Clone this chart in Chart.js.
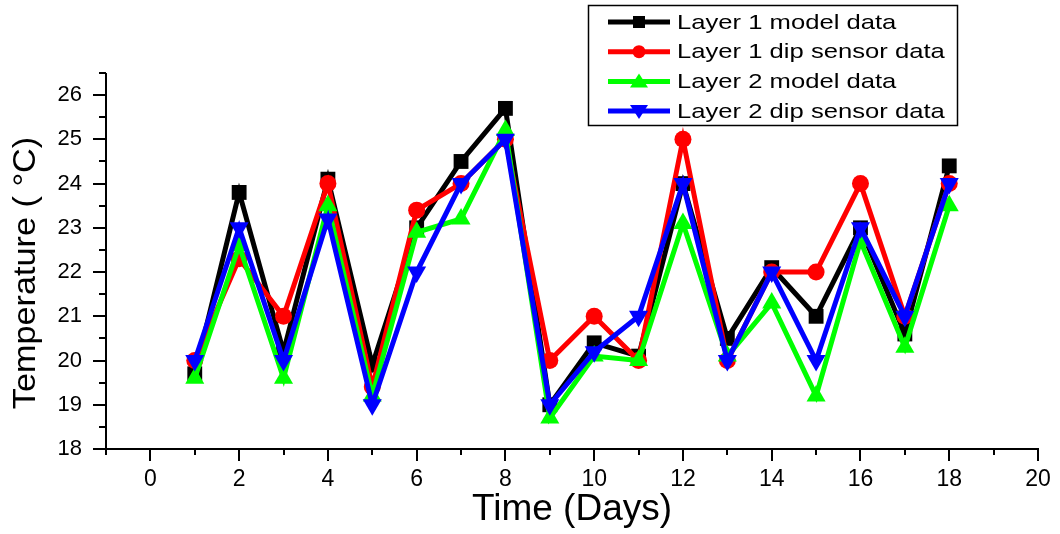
<!DOCTYPE html>
<html><head><meta charset="utf-8">
<script src="https://cdn.jsdelivr.net/npm/chart.js@4.4.0/dist/chart.umd.min.js"></script>
<style>html,body{margin:0;padding:0;background:#fff;overflow:hidden}#wrap{width:1060px;height:534px;position:relative}</style>
</head><body><div id="wrap"><canvas id="c" width="1060" height="534"></canvas></div>
<script>
const days = [1,2,3,4,5,6,7,8,9,10,11,12,13,14,15,16,17,18];
const layer1Model = [19.7,23.8,20.2,24.1,19.9,23.0,24.5,25.7,19.0,20.4,20.1,24.0,20.5,22.1,21.0,23.0,20.6,24.4];
const layer1Dip   = [20.0,22.3,21.0,24.0,19.4,23.4,24.0,25.0,20.0,21.0,20.0,25.0,20.0,22.0,22.0,24.0,21.0,24.0];
const layer2Model = [19.6,22.6,19.6,23.5,19.2,22.9,23.2,25.2,18.7,20.1,20.0,23.1,20.1,21.3,19.2,22.7,20.3,23.5];
const layer2Dip   = [20.0,23.0,20.0,23.2,19.0,22.0,24.0,25.0,19.0,20.2,21.0,24.0,20.0,22.0,20.0,23.0,21.0,24.0];
const seriesLabels = ['Layer 1 model data','Layer 1 dip sensor data','Layer 2 model data','Layer 2 dip sensor data'];
const xTickLabels = ['0','2','4','6','8','10','12','14','16','18','20'];
const yTickLabels = ['18','19','20','21','22','23','24','25','26'];
const xTitle = 'Time (Days)';
const yTitle = 'Temperature ( \u00B0C)';

const FONT = '"Liberation Sans", Arial, sans-serif';
const toPts = arr => days.map((d,i)=>({x:d,y:arr[i]}));

const styles = [
  {color:'#000000', pointStyle:'rect', radius:10.5, rotation:0, order:3},
  {color:'#ff0000', pointStyle:'circle', radius:8.5, rotation:0, order:2},
  {color:'#00ff00', pointStyle:'triangle', radius:11, rotation:0, order:1},
  {color:'#0000ff', pointStyle:'triangle', radius:11, rotation:180, order:0}
];
const values = [layer1Model, layer1Dip, layer2Model, layer2Dip];

const datasets = values.map((v,i)=>({
  label: seriesLabels[i],
  data: toPts(v),
  borderColor: styles[i].color,
  backgroundColor: styles[i].color,
  pointBackgroundColor: styles[i].color,
  pointBorderColor: styles[i].color,
  pointBorderWidth: 0,
  pointStyle: styles[i].pointStyle,
  pointRadius: styles[i].radius,
  pointHoverRadius: styles[i].radius,
  pointRotation: styles[i].rotation,
  borderWidth: 5,
  tension: 0,
  fill: false,
  order: styles[i].order
}));

const axesPlugin = {
  id: 'axesPlugin',
  afterDraw(chart){
    const ctx = chart.ctx, xs = chart.scales.x, ys = chart.scales.y, ca = chart.chartArea;
    ctx.save();
    ctx.strokeStyle = '#000'; ctx.lineWidth = 2; ctx.lineCap = 'butt';
    const x0 = Math.round(ca.left), yb = Math.round(ca.bottom);
    ctx.beginPath();
    ctx.moveTo(x0, Math.round(ca.top)); ctx.lineTo(x0, yb);
    ctx.moveTo(x0 - 1, yb); ctx.lineTo(Math.round(ca.right)+1, yb);
    for (let v = ys.min; v <= ys.max + 1e-9; v += 0.5) {
      const y = Math.round(ys.getPixelForValue(v));
      const major = yTickLabels.includes(String(v));
      ctx.moveTo(x0, y); ctx.lineTo(x0 - (major ? 13 : 7), y);
    }
    for (let v = xs.min; v <= xs.max + 1e-9; v += 1) {
      const x = Math.round(xs.getPixelForValue(v));
      const major = xTickLabels.includes(String(v));
      ctx.moveTo(x, yb); ctx.lineTo(x, yb + (major ? 12 : 6));
    }
    ctx.stroke();

    // y-axis title
    ctx.save();
    ctx.fillStyle = '#000';
    ctx.font = '32px ' + FONT;
    ctx.textAlign = 'center'; ctx.textBaseline = 'alphabetic';
    ctx.translate(35, 273);
    ctx.rotate(-Math.PI / 2);
    ctx.scale(1.07, 1);
    ctx.fillText(yTitle, 0, 0);
    ctx.restore();

    // legend
    const bx = 588, by = 5, bw = 369, bh = 120;
    ctx.fillStyle = '#fff';
    ctx.fillRect(bx, by, bw, bh);
    ctx.lineWidth = 1.5; ctx.strokeStyle = '#000';
    ctx.strokeRect(bx + 0.5, by + 0.5, bw, bh);
    chart.data.datasets.forEach((ds, i) => {
      const cy = 22 + i * 29.7;
      const st = styles[i];
      ctx.strokeStyle = st.color; ctx.fillStyle = st.color; ctx.lineWidth = 5;
      ctx.beginPath(); ctx.moveTo(608, cy); ctx.lineTo(670, cy); ctx.stroke();
      const mx = 639;
      ctx.beginPath();
      if (st.pointStyle === 'rect') { ctx.fillRect(mx - 6, cy - 6, 12, 12); }
      else if (st.pointStyle === 'circle') { ctx.arc(mx, cy, 6.5, 0, Math.PI*2); ctx.fill(); }
      else if (st.rotation === 0) { ctx.moveTo(mx, cy - 8); ctx.lineTo(mx + 9, cy + 6); ctx.lineTo(mx - 9, cy + 6); ctx.closePath(); ctx.fill(); }
      else { ctx.moveTo(mx, cy + 8); ctx.lineTo(mx + 9, cy - 6); ctx.lineTo(mx - 9, cy - 6); ctx.closePath(); ctx.fill(); }
      ctx.save();
      ctx.fillStyle = '#000';
      ctx.font = '21px ' + FONT;
      ctx.textBaseline = 'middle'; ctx.textAlign = 'left';
      ctx.translate(677, cy);
      ctx.scale(1.22, 1);
      ctx.fillText(ds.label, 0, 1);
      ctx.restore();
    });
    ctx.restore();
  }
};

new Chart(document.getElementById('c'), {
  type: 'line',
  data: { datasets },
  options: {
    responsive: false,
    animation: false,
    devicePixelRatio: 1,
    layout: { padding: { top: 73, right: 22, left: 0, bottom: 0 } },
    plugins: { legend: { display: false }, tooltip: { enabled: false } },
    scales: {
      x: {
        type: 'linear', min: -1, max: 20,
        grid: { display: false, drawTicks: false, tickLength: 0 },
        border: { display: false },
        ticks: {
          stepSize: 1, autoSkip: false, maxRotation: 0, padding: 17,
          color: '#000', font: { family: FONT, size: 23 },
          callback: v => xTickLabels.includes(String(v)) ? String(v) : ''
        },
        title: { display: true, text: xTitle, color: '#000', font: { family: FONT, size: 37 }, padding: { top: 0, bottom: 2 } },
        afterFit: s => { s.height = 85; s.paddingRight = 0; s.paddingLeft = 0; }
      },
      y: {
        type: 'linear', min: 18, max: 26.5,
        grid: { display: false, drawTicks: false, tickLength: 0 },
        border: { display: false },
        ticks: {
          stepSize: 0.5, autoSkip: false, padding: 24,
          color: '#000', font: { family: FONT, size: 22 },
          callback: v => yTickLabels.includes(String(v)) ? String(v) : ''
        },
        title: { display: false },
        afterFit: s => { s.width = 106; s.paddingTop = 0; s.paddingBottom = 0; }
      }
    }
  },
  plugins: [axesPlugin]
});
</script>
</body></html>
